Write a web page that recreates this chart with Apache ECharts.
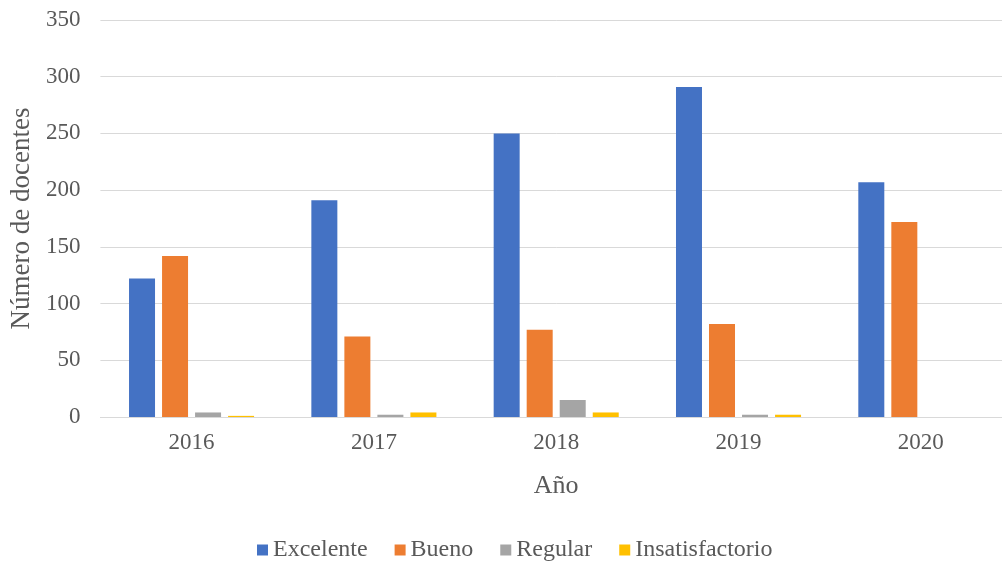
<!DOCTYPE html>
<html>
<head>
<meta charset="utf-8">
<script src="https://cdn.jsdelivr.net/npm/echarts@6/dist/echarts.min.js"></script>
<style>
  html, body { margin: 0; padding: 0; background: #fff; overflow: hidden; }
  #wrap { width: 1002px; height: 565px; overflow: hidden; }
  /* the plot runs slightly past the right edge of the page */
  #chart { width: 1012px; height: 565px; }
</style>
</head>
<body>
<div id="wrap"><div id="chart"></div></div>
<script>
// Docentes por nivel de desempeño, por año
const years = ['2016', '2017', '2018', '2019', '2020'];
const excelente = [122, 191, 250, 291, 207];
const bueno = [142, 71, 77, 82, 172];
const regular = [4, 2, 15, 2, 0];
const insatisfactorio = [1, 4, 4, 2, 0];

const FONT = '"Liberation Serif", "Times New Roman", serif';
const TEXT = '#595959';

function bar(name, data, color) {
  return {
    name: name,
    type: 'bar',
    data: data,
    barWidth: 26,
    barGap: '27%',
    itemStyle: { color: color },
    emphasis: { disabled: true }
  };
}

const chart = echarts.init(document.getElementById('chart'), null, { renderer: 'canvas' });
chart.setOption({
  animation: false,
  textStyle: { fontFamily: FONT },
  grid: { left: 100, top: 20, right: 0, height: 397, containLabel: false },
  legend: {
    top: 538,
    left: 257,
    padding: 0,
    itemWidth: 11,
    itemHeight: 11,
    itemGap: 27,
    icon: 'rect',
    textStyle: { fontFamily: FONT, fontSize: 24, color: TEXT },
    data: ['Excelente', 'Bueno', 'Regular', 'Insatisfactorio']
  },
  xAxis: {
    type: 'category',
    data: years,
    name: 'Año',
    nameLocation: 'middle',
    nameGap: 56,
    nameTextStyle: { fontFamily: FONT, fontSize: 26, color: TEXT },
    axisLine: { lineStyle: { color: '#d9d9d9', width: 1 } },
    axisTick: { show: false },
    axisLabel: { fontFamily: FONT, fontSize: 23, color: TEXT, margin: 14 }
  },
  yAxis: {
    type: 'value',
    min: 0,
    max: 350,
    interval: 50,
    name: 'Número de docentes',
    nameLocation: 'middle',
    nameGap: 65,
    nameTextStyle: { fontFamily: FONT, fontSize: 27, color: TEXT },
    axisLine: { show: false },
    axisTick: { show: false },
    splitLine: { lineStyle: { color: '#d9d9d9', width: 1 } },
    axisLabel: { fontFamily: FONT, fontSize: 23, color: TEXT, margin: 20 }
  },
  series: [
    bar('Excelente', excelente, '#4472c4'),
    bar('Bueno', bueno, '#ed7d31'),
    bar('Regular', regular, '#a5a5a5'),
    bar('Insatisfactorio', insatisfactorio, '#ffc000')
  ]
});
</script>
</body>
</html>
